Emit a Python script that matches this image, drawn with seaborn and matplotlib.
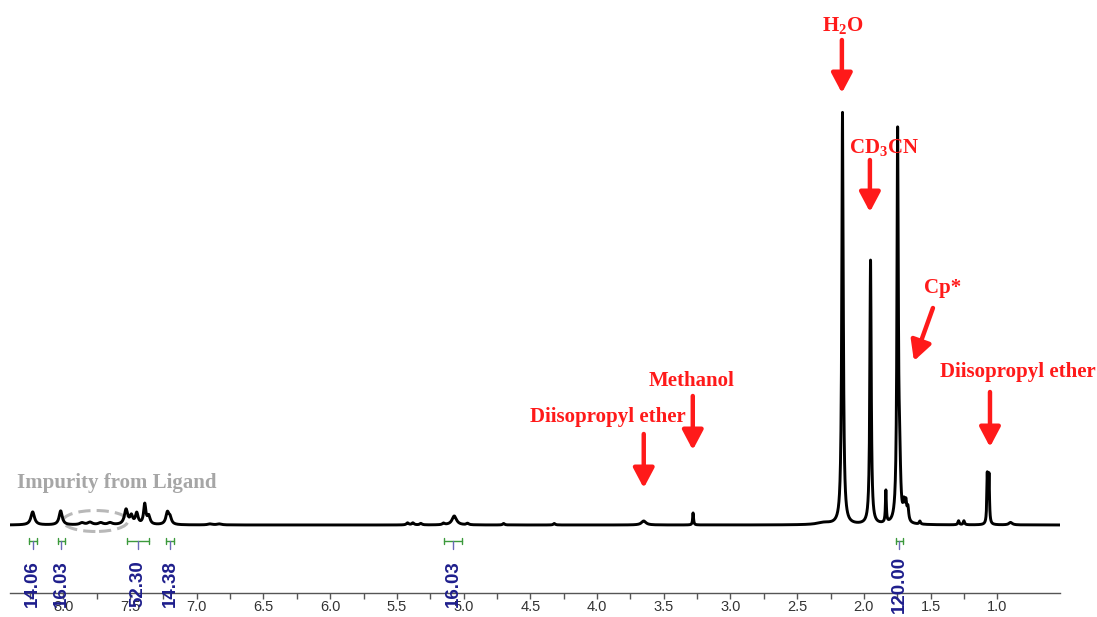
import numpy as np
import pandas as pd
import matplotlib
matplotlib.use("Agg")
import matplotlib.pyplot as plt
from matplotlib.patches import Ellipse
import seaborn as sns

# ---- peak table (ppm, height, half-width in ppm) ----
peak_ppm = [8.23, 8.02, 7.86, 7.80, 7.72, 7.65, 7.53, 7.49, 7.45, 7.39, 7.36, 7.22, 7.20,
            6.90, 6.83, 5.42, 5.38, 5.32, 5.15, 5.07, 4.97, 4.70, 4.32, 3.65, 3.28,
            2.30, 2.16, 1.95, 1.835, 1.747, 1.732, 1.70, 1.685, 1.67, 1.58, 1.29, 1.25,
            1.075, 1.062, 0.90]
peak_height = [13, 14, 2, 2.5, 2, 2, 15, 8, 11, 20, 8, 12, 6,
               1, 1, 2, 2, 1.5, 1.5, 9, 1.5, 1.5, 1.5, 4, 12,
               2, 412, 264, 32, 386, 50, 15, 17, 13, 3, 4, 4,
               49, 48, 2.5]
peak_width = [0.016, 0.014, 0.02, 0.02, 0.02, 0.02, 0.015, 0.012, 0.012, 0.010, 0.012, 0.014, 0.012,
              0.02, 0.02, 0.01, 0.01, 0.01, 0.01, 0.02, 0.01, 0.008, 0.008, 0.02, 0.004,
              0.06, 0.0065, 0.006, 0.004, 0.006, 0.008, 0.007, 0.007, 0.007, 0.006, 0.006, 0.006,
              0.004, 0.004, 0.015]

# integration regions
integ_left = [8.26, 8.04, 7.52, 7.23, 5.15, 1.76]
integ_right = [8.20, 7.99, 7.355, 7.17, 5.01, 1.71]
integ_labels = ["14.06", "16.03", "52.30", "14.38", "16.03", "120.00"]

tick_values = [8.0, 7.5, 7.0, 6.5, 6.0, 5.5, 5.0, 4.5, 4.0, 3.5, 3.0, 2.5, 2.0, 1.5, 1.0]

# ---- build spectrum from the peak table ----
ppm = np.arange(0.53, 8.40, 0.0005)
intensity = np.zeros_like(ppm)
for c, h, w in zip(peak_ppm, peak_height, peak_width):
    intensity += h * w**2 / ((ppm - c)**2 + w**2)
df = pd.DataFrame({"ppm": ppm, "intensity": intensity})

sns.set_theme(style="white")
plt.rcParams["font.family"] = ["Liberation Sans", "DejaVu Sans"]
plt.rcParams["mathtext.fontset"] = "custom"
plt.rcParams["mathtext.rm"] = "Liberation Serif:bold"
plt.rcParams["mathtext.it"] = "Liberation Serif:bold"
plt.rcParams["mathtext.bf"] = "Liberation Serif:bold"

W, H = 1097, 617
fig = plt.figure(figsize=(W / 100, H / 100), dpi=100)
ax = fig.add_axes([10 / W, 24 / H, 1050 / W, 593 / H])

sns.lineplot(data=df, x="ppm", y="intensity", ax=ax, color="black", linewidth=2.1, sort=False)

ax.set_xlim(8.40, 0.53)
ax.set_ylim(-68, 525)

# pixel -> data helpers (for annotation placement)
def px_x(x):
    return 8.0 - (x - 63) / 133.33

def px_y(y):
    return 525 - y

# axes styling
for s in ["left", "right", "top"]:
    ax.spines[s].set_visible(False)
ax.spines["bottom"].set_color("#555555")
ax.spines["bottom"].set_linewidth(1.0)
ax.set_yticks([])
ax.set_xticks(tick_values)
ax.set_xticklabels([f"{v:.1f}" for v in tick_values])
ax.set_xticks(np.arange(1.25, 8.3, 0.5), minor=True)
ax.tick_params(axis="x", which="both", direction="out", length=4, width=1, color="#555555",
               labelsize=10.5, labelcolor="#333333", pad=1, bottom=True)
ax.set_xlabel("")
ax.set_ylabel("")

# integration brackets and labels
for l, r, lab in zip(integ_left, integ_right, integ_labels):
    yb = px_y(541)
    ax.plot([l, r], [yb, yb], color="#3c9a3c", lw=1.0, clip_on=False)
    ax.plot([l, l], [yb - 3, yb + 3], color="#3c9a3c", lw=1.0, clip_on=False)
    ax.plot([r, r], [yb - 3, yb + 3], color="#3c9a3c", lw=1.0, clip_on=False)
    m = (l + r) / 2
    ax.plot([m, m], [yb, px_y(549)], color="#6a6ab8", lw=1.0, clip_on=False)
    ax.text(m, px_y(584), lab, rotation=90, ha="center", va="center", fontsize=13.5,
            fontweight="bold", color="#1e1e8c", clip_on=False)

# red annotations
red = "#ff1a1a"
serif = ["Liberation Serif", "DejaVu Serif"]
arrow_kw = dict(arrowstyle="-|>,head_width=0.45,head_length=0.85", color=red, lw=3.2,
                shrinkA=0, shrinkB=0, mutation_scale=14)

def label_arrow(text, tx, ty, x0, y0, x1, y1, color=red):
    ax.text(px_x(tx), px_y(ty), text, ha="center", va="center", fontsize=15,
            fontweight="bold", color=color, family=serif)
    ax.annotate("", xy=(px_x(x1), px_y(y1)), xytext=(px_x(x0), px_y(y0)), arrowprops=arrow_kw)

label_arrow("H$_2$O", 842, 25, 841, 40, 841, 93)
label_arrow("CD$_3$CN", 883, 148, 869, 160, 869, 212)
label_arrow("Cp*", 942, 288, 932, 308, 913, 361)
label_arrow("Methanol", 691, 381, 692, 396, 692, 450)
label_arrow("Diisopropyl ether", 607, 417, 643, 434, 643, 488)
label_arrow("Diisopropyl ether", 1017, 372, 989, 392, 989, 447)

ax.text(px_x(116), px_y(483), "Impurity from Ligand", ha="center", va="center", fontsize=15,
        fontweight="bold", color="#a6a6a6", family=serif)
ell = Ellipse((px_x(95), px_y(521)), width=65 / 133.33, height=21, fill=False,
              edgecolor="#b8b8b8", linestyle=(0, (4, 2)), lw=2.2)
ax.add_patch(ell)

fig.savefig("out.png", dpi=100)
